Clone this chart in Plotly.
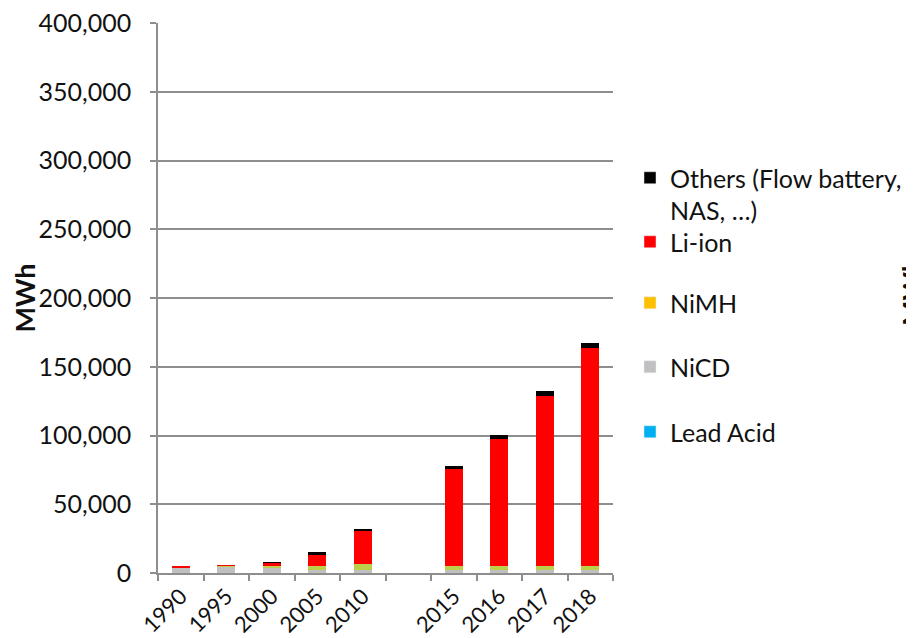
import plotly.graph_objects as go

# Categories (the blank one is the gap between 2010 and 2015)
YEARS = ["1990", "1995", "2000", "2005", "2010", " ", "2015", "2016", "2017", "2018"]

# MWh per chemistry
LEAD_ACID = [0, 0, 0, 0, 0, None, 0, 0, 0, 0]
NICD = [3900, 4800, 4300, 2500, 2200, None, 2000, 2000, 2000, 2000]
NIMH = [300, 500, 1100, 2300, 4400, None, 3200, 3200, 3200, 3200]
LI_ION = [200, 300, 2000, 9000, 23700, None, 70500, 92400, 123600, 158300]
OTHERS = [0, 0, 300, 1200, 1700, None, 2000, 3000, 3600, 4100]

FONT = "Lato"
TEXT = "#111111"
GRID = "#8E8E8E"

# (name, values, bar colour, legend colour)
SERIES = [
    ("Lead Acid", LEAD_ACID, "#00B0F0", "#00B0F0"),
    ("NiCD", NICD, "#C0C0C0", "#C0C0C0"),
    ("NiMH", NIMH, "#BDD04A", "#FFC000"),
    ("Li-ion", LI_ION, "#FF0000", "#FF0000"),
    ("Others (Flow battery,<br>NAS, …)", OTHERS, "#000000", "#000000"),
]

# legend slot centres in page pixels (top to bottom in the reference)
LEGEND_Y_PX = {"Others (Flow battery,<br>NAS, …)": 178, "Li-ion": 242, "NiMH": 303,
               "NiCD": 367, "Lead Acid": 432}

# the page body has an 8px margin, so the figure is drawn 8px smaller
OFF = 8
W, H = 914 - OFF, 638 - OFF
L, R, T, B = 158 - OFF, 301, 23 - OFF, 65
PW, PH = W - L - R, H - T - B


def px_to_paper_x(px):
    return (px - OFF - L) / PW


def px_to_paper_y(py):
    return (H - B - (py - OFF)) / PH


fig = go.Figure()
layout_legends = {}
for i, (name, vals, bar_col, leg_col) in enumerate(SERIES):
    fig.add_trace(go.Bar(x=YEARS, y=vals, name=name, marker_color=bar_col,
                         marker_line_width=0, showlegend=False))
    key = "legend" if i == 0 else f"legend{i + 1}"
    fig.add_trace(go.Bar(x=[None], y=[None], name=name, marker_color=leg_col,
                         legend=key, showlegend=True))
    layout_legends[key] = dict(
        xref="container", yref="container",
        x=(630 - OFF) / W, xanchor="left",
        y=1 - (LEGEND_Y_PX[name] - OFF - 23) / H, yanchor="top",
        valign="top", bgcolor="rgba(0,0,0,0)",
        font=dict(family=FONT, size=25, color=TEXT),
    )

fig.update_layout(
    barmode="stack",
    bargap=0.6,
    width=W, height=H,
    margin=dict(l=L, r=R, t=T, b=B, autoexpand=False),
    plot_bgcolor="white", paper_bgcolor="white",
    font=dict(family=FONT, size=25, color=TEXT),
    **layout_legends,
)

fig.update_xaxes(
    type="category", categoryorder="array", categoryarray=YEARS,
    tickangle=-45, tickson="boundaries", ticks="outside", ticklen=6,
    tickcolor=GRID, tickwidth=1.5, automargin=False, ticklabeloverflow="allow",
    showline=True, linecolor=GRID, linewidth=1.5,
    showgrid=False, tickfont=dict(family=FONT, size=22, color=TEXT),
)
fig.update_yaxes(
    range=[0, 400000], dtick=50000, tickformat=",",
    ticks="outside", ticklen=6, tickcolor=GRID, tickwidth=1.5, automargin=False,
    ticklabelstandoff=14, ticklabeloverflow="allow",
    showline=True, linecolor=GRID, linewidth=1.5,
    showgrid=True, gridcolor=GRID, gridwidth=1.5, zeroline=False,
    tickfont=dict(family=FONT, size=25, color=TEXT),
    title=dict(text="<b>MWh</b>", font=dict(family=FONT, size=27, color=TEXT), standoff=4),
)

# axis title of the neighbouring chart, cut off at the right edge
fig.add_annotation(
    text="<b>MWh</b>", textangle=-90, showarrow=False,
    xref="paper", yref="paper", x=px_to_paper_x(911), y=px_to_paper_y(292),
    xanchor="center", yanchor="middle",
    font=dict(family=FONT, size=27, color=TEXT),
)

fig.write_html("out.html")
